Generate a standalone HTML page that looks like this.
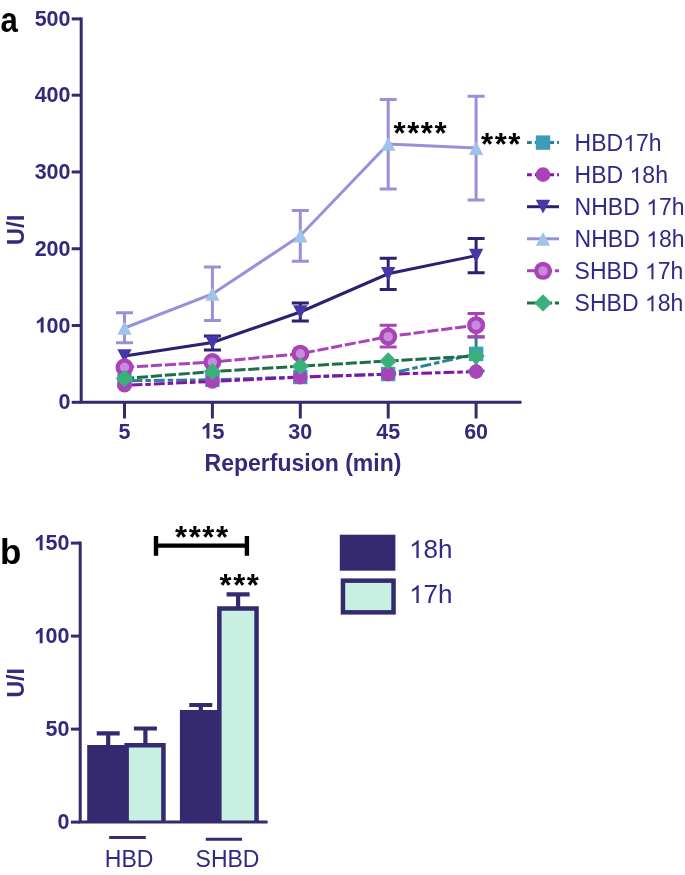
<!DOCTYPE html>
<html><head><meta charset="utf-8"><style>
html,body{margin:0;padding:0;background:#fff;}
svg{display:block;will-change:transform;}
text{font-family:"Liberation Sans",sans-serif;}
</style></head><body>
<svg width="685" height="875" viewBox="0 0 685 875">
<g stroke="#352a70" stroke-width="3" fill="none">
<path d="M81.2,17.4 V403.8 M79.7,402.3 H521.5"/>
<path d="M71.7,402.30 H81"/>
<path d="M71.7,325.52 H81"/>
<path d="M71.7,248.74 H81"/>
<path d="M71.7,171.96 H81"/>
<path d="M71.7,95.18 H81"/>
<path d="M71.7,18.90 H81"/>
<path d="M124.5,402 V418.5"/>
<path d="M212.4,402 V418.5"/>
<path d="M300.3,402 V418.5"/>
<path d="M388.2,402 V418.5"/>
<path d="M476.1,402 V418.5"/>
</g>
<polyline points="124.5,380.8 212.4,379.8 300.3,377.0 388.2,374.0 476.1,353.9" fill="none" stroke="#2a8098" stroke-width="3" stroke-dasharray="10.8 3 5.5 3" stroke-dashoffset="15.2"/>
<polyline points="124.5,385.3 212.4,381.5 300.3,377.1 388.2,374.2 476.1,371.6" fill="none" stroke="#8413a6" stroke-width="3" stroke-dasharray="10.8 3 5.5 3" stroke-dashoffset="15.2"/>
<polyline points="124.5,356.0 212.4,342.5 300.3,312.0 388.2,273.8 476.1,255.6" fill="none" stroke="#2c2170" stroke-width="3"/>
<polyline points="124.5,328.0 212.4,294.0 300.3,235.7 388.2,144.0 476.1,148.1" fill="none" stroke="#9891d9" stroke-width="3"/>
<polyline points="124.5,367.3 212.4,362.1 300.3,353.7 388.2,336.6 476.1,325.2" fill="none" stroke="#a843b8" stroke-width="3" stroke-dasharray="11.15 2.8" stroke-dashoffset="1.45"/>
<polyline points="124.5,378.5 212.4,371.6 300.3,366.2 388.2,361.0 476.1,356.0" fill="none" stroke="#1f6e47" stroke-width="3" stroke-dasharray="11.15 2.8" stroke-dashoffset="1.45"/>
<path d="M476.1,336.9 V370.9 M467.6,336.9 H484.6 M467.6,370.9 H484.6" stroke="#2a8098" stroke-width="3" fill="none"/>
<rect x="117.30" y="373.60" width="14.4" height="14.4" fill="#3c9db8"/>
<rect x="205.20" y="372.60" width="14.4" height="14.4" fill="#3c9db8"/>
<rect x="293.10" y="369.80" width="14.4" height="14.4" fill="#3c9db8"/>
<rect x="381.00" y="366.80" width="14.4" height="14.4" fill="#3c9db8"/>
<rect x="468.90" y="346.70" width="14.4" height="14.4" fill="#3c9db8"/>
<circle cx="124.5" cy="385.3" r="7.3" fill="#a843b8"/>
<circle cx="212.4" cy="381.5" r="7.3" fill="#a843b8"/>
<circle cx="300.3" cy="377.1" r="7.3" fill="#a843b8"/>
<circle cx="388.2" cy="374.2" r="7.3" fill="#a843b8"/>
<circle cx="476.1" cy="371.6" r="7.3" fill="#a843b8"/>
<path d="M212.4,336.0 V350.0 M203.9,336.0 H220.9 M203.9,350.0 H220.9" stroke="#2c2170" stroke-width="3" fill="none"/>
<path d="M300.3,303.0 V321.0 M291.8,303.0 H308.8 M291.8,321.0 H308.8" stroke="#2c2170" stroke-width="3" fill="none"/>
<path d="M388.2,258.2 V289.5 M379.7,258.2 H396.7 M379.7,289.5 H396.7" stroke="#2c2170" stroke-width="3" fill="none"/>
<path d="M476.1,238.5 V272.8 M467.6,238.5 H484.6 M467.6,272.8 H484.6" stroke="#2c2170" stroke-width="3" fill="none"/>
<path d="M117.30,349.15 L131.70,349.15 L124.50,362.85Z" fill="#4438a8"/>
<path d="M205.20,335.65 L219.60,335.65 L212.40,349.35Z" fill="#4438a8"/>
<path d="M293.10,305.15 L307.50,305.15 L300.30,318.85Z" fill="#4438a8"/>
<path d="M381.00,266.95 L395.40,266.95 L388.20,280.65Z" fill="#4438a8"/>
<path d="M468.90,248.75 L483.30,248.75 L476.10,262.45Z" fill="#4438a8"/>
<path d="M124.5,312.7 V342.8 M116.0,312.7 H133.0 M116.0,342.8 H133.0" stroke="#9891d9" stroke-width="3" fill="none"/>
<path d="M212.4,267.0 V320.6 M203.9,267.0 H220.9 M203.9,320.6 H220.9" stroke="#9891d9" stroke-width="3" fill="none"/>
<path d="M300.3,210.5 V261.2 M291.8,210.5 H308.8 M291.8,261.2 H308.8" stroke="#9891d9" stroke-width="3" fill="none"/>
<path d="M388.2,99.6 V188.9 M379.7,99.6 H396.7 M379.7,188.9 H396.7" stroke="#9891d9" stroke-width="3" fill="none"/>
<path d="M476.1,96.3 V199.9 M467.6,96.3 H484.6 M467.6,199.9 H484.6" stroke="#9891d9" stroke-width="3" fill="none"/>
<path d="M117.30,334.85 L131.70,334.85 L124.50,321.15Z" fill="#a0c3e8"/>
<path d="M205.20,300.85 L219.60,300.85 L212.40,287.15Z" fill="#a0c3e8"/>
<path d="M293.10,242.55 L307.50,242.55 L300.30,228.85Z" fill="#a0c3e8"/>
<path d="M381.00,150.85 L395.40,150.85 L388.20,137.15Z" fill="#a0c3e8"/>
<path d="M468.90,154.95 L483.30,154.95 L476.10,141.25Z" fill="#a0c3e8"/>
<path d="M388.2,325.3 V346.9 M379.7,325.3 H396.7 M379.7,346.9 H396.7" stroke="#a843b8" stroke-width="3" fill="none"/>
<path d="M476.1,313.5 V336.8 M467.6,313.5 H484.6 M467.6,336.8 H484.6" stroke="#a843b8" stroke-width="3" fill="none"/>
<circle cx="124.5" cy="367.3" r="9" fill="#a843b8"/><circle cx="124.5" cy="367.3" r="4.7" fill="#c88bdb"/>
<circle cx="212.4" cy="362.1" r="9" fill="#a843b8"/><circle cx="212.4" cy="362.1" r="4.7" fill="#c88bdb"/>
<circle cx="300.3" cy="353.7" r="9" fill="#a843b8"/><circle cx="300.3" cy="353.7" r="4.7" fill="#c88bdb"/>
<circle cx="388.2" cy="336.6" r="9" fill="#a843b8"/><circle cx="388.2" cy="336.6" r="4.7" fill="#c88bdb"/>
<circle cx="476.1" cy="325.2" r="9" fill="#a843b8"/><circle cx="476.1" cy="325.2" r="4.7" fill="#c88bdb"/>
<path d="M124.50,369.80 L133.20,378.50 L124.50,387.20 L115.80,378.50Z" fill="#39b17a"/>
<path d="M212.40,362.90 L221.10,371.60 L212.40,380.30 L203.70,371.60Z" fill="#39b17a"/>
<path d="M300.30,357.50 L309.00,366.20 L300.30,374.90 L291.60,366.20Z" fill="#39b17a"/>
<path d="M388.20,352.30 L396.90,361.00 L388.20,369.70 L379.50,361.00Z" fill="#39b17a"/>
<path d="M476.10,347.30 L484.80,356.00 L476.10,364.70 L467.40,356.00Z" fill="#39b17a"/>
<text transform="translate(70.50,409.30) scale(1,1.04)" x="-11.957" y="0" font-size="21.5" font-weight="bold" fill="#322a7a">0</text>
<text transform="translate(70.50,332.52) scale(1,1.04)" x="-35.872" y="0" font-size="21.5" font-weight="bold" fill="#322a7a"> 00</text><path transform="translate(70.50,332.52) scale(1,1.04) translate(-35.872,0) scale(0.010498,-0.010090)" d="M856,0 L575,0 L575,1059 Q421,915 212,846 L212,1101 Q322,1137 451,1237 Q580,1337 639,1466 L856,1466 Z" fill="#322a7a"/>
<text transform="translate(70.50,255.74) scale(1,1.04)" x="-35.872" y="0" font-size="21.5" font-weight="bold" fill="#322a7a">200</text>
<text transform="translate(70.50,178.96) scale(1,1.04)" x="-35.872" y="0" font-size="21.5" font-weight="bold" fill="#322a7a">300</text>
<text transform="translate(70.50,102.18) scale(1,1.04)" x="-35.872" y="0" font-size="21.5" font-weight="bold" fill="#322a7a">400</text>
<text transform="translate(70.50,25.90) scale(1,1.04)" x="-35.872" y="0" font-size="21.5" font-weight="bold" fill="#322a7a">500</text>
<text transform="translate(124.50,438.50) scale(1,1.04)" x="-5.979" y="0" font-size="21.5" font-weight="bold" fill="#322a7a">5</text>
<text transform="translate(212.40,438.50) scale(1,1.04)" x="-11.957" y="0" font-size="21.5" font-weight="bold" fill="#322a7a"> 5</text><path transform="translate(212.40,438.50) scale(1,1.04) translate(-11.957,0) scale(0.010498,-0.010090)" d="M856,0 L575,0 L575,1059 Q421,915 212,846 L212,1101 Q322,1137 451,1237 Q580,1337 639,1466 L856,1466 Z" fill="#322a7a"/>
<text transform="translate(300.30,438.50) scale(1,1.04)" x="-11.957" y="0" font-size="21.5" font-weight="bold" fill="#322a7a">30</text>
<text transform="translate(388.20,438.50) scale(1,1.04)" x="-11.957" y="0" font-size="21.5" font-weight="bold" fill="#322a7a">45</text>
<text transform="translate(476.10,438.50) scale(1,1.04)" x="-11.957" y="0" font-size="21.5" font-weight="bold" fill="#322a7a">60</text>
<text x="303" y="470.8" text-anchor="middle" font-weight="bold" font-size="23" fill="#322a7a">Reperfusion (min)</text>
<text transform="translate(24,229.9) rotate(-90)" text-anchor="middle" font-weight="bold" font-size="24" fill="#322a7a">U/I</text>
<text transform="translate(0.4,31.6) scale(0.89,1.02)" font-weight="bold" font-size="35" fill="#000">a</text>
<text x="393.5" y="144" font-weight="bold" font-size="31" letter-spacing="1.6" fill="#000">****</text>
<text x="481" y="154.5" font-weight="bold" font-size="31" letter-spacing="1.6" fill="#000">***</text>
<path d="M527,142.60 H559" stroke="#2a8098" stroke-width="3" stroke-dasharray="10.8 3 5.5 3" stroke-dashoffset="6"/>
<rect x="535.80" y="135.40" width="14.4" height="14.4" fill="#3c9db8"/>
<text transform="translate(574.60,150.90)" x="0.000" y="0" font-size="23" fill="#2f2a86">HBD 7h</text><path transform="translate(574.60,150.90) translate(48.561,0) scale(0.011230,-0.010794)" d="M763,0 L583,0 L583,1147 Q518,1085 412.5,1023 Q307,961 223,930 L223,1104 Q374,1175 484.5,1273.5 Q595,1372 646,1466 L763,1466 Z" fill="#2f2a86"/>
<path d="M527,174.66 H559" stroke="#8413a6" stroke-width="3" stroke-dasharray="10.8 3 5.5 3" stroke-dashoffset="6"/>
<circle cx="543" cy="174.66" r="7.3" fill="#a843b8"/>
<text transform="translate(574.60,182.96)" x="0.000" y="0" font-size="23" fill="#2f2a86">HBD  8h</text><path transform="translate(574.60,182.96) translate(54.951,0) scale(0.011230,-0.010794)" d="M763,0 L583,0 L583,1147 Q518,1085 412.5,1023 Q307,961 223,930 L223,1104 Q374,1175 484.5,1273.5 Q595,1372 646,1466 L763,1466 Z" fill="#2f2a86"/>
<path d="M527,206.72 H559" stroke="#2c2170" stroke-width="3"/>
<path d="M535.80,199.87 L550.20,199.87 L543.00,213.57Z" fill="#4438a8"/>
<text transform="translate(574.60,215.02)" x="0.000" y="0" font-size="23" fill="#2f2a86">NHBD  7h</text><path transform="translate(574.60,215.02) translate(71.561,0) scale(0.011230,-0.010794)" d="M763,0 L583,0 L583,1147 Q518,1085 412.5,1023 Q307,961 223,930 L223,1104 Q374,1175 484.5,1273.5 Q595,1372 646,1466 L763,1466 Z" fill="#2f2a86"/>
<path d="M527,238.78 H559" stroke="#9891d9" stroke-width="3"/>
<path d="M535.80,245.63 L550.20,245.63 L543.00,231.93Z" fill="#a0c3e8"/>
<text transform="translate(574.60,247.08)" x="0.000" y="0" font-size="23" fill="#2f2a86">NHBD  8h</text><path transform="translate(574.60,247.08) translate(71.561,0) scale(0.011230,-0.010794)" d="M763,0 L583,0 L583,1147 Q518,1085 412.5,1023 Q307,961 223,930 L223,1104 Q374,1175 484.5,1273.5 Q595,1372 646,1466 L763,1466 Z" fill="#2f2a86"/>
<path d="M527,270.84 H559" stroke="#a843b8" stroke-width="3" stroke-dasharray="11.15 2.8" stroke-dashoffset="0"/>
<circle cx="543" cy="270.84000000000003" r="9" fill="#a843b8"/><circle cx="543" cy="270.84000000000003" r="4.7" fill="#c88bdb"/>
<text transform="translate(574.60,279.14)" x="0.000" y="0" font-size="23" fill="#2f2a86">SHBD  7h</text><path transform="translate(574.60,279.14) translate(70.292,0) scale(0.011230,-0.010794)" d="M763,0 L583,0 L583,1147 Q518,1085 412.5,1023 Q307,961 223,930 L223,1104 Q374,1175 484.5,1273.5 Q595,1372 646,1466 L763,1466 Z" fill="#2f2a86"/>
<path d="M527,302.90 H559" stroke="#1f6e47" stroke-width="3" stroke-dasharray="11.15 2.8" stroke-dashoffset="0"/>
<path d="M543.00,294.20 L551.70,302.90 L543.00,311.60 L534.30,302.90Z" fill="#39b17a"/>
<text transform="translate(574.60,311.20)" x="0.000" y="0" font-size="23" fill="#2f2a86">SHBD  8h</text><path transform="translate(574.60,311.20) translate(70.292,0) scale(0.011230,-0.010794)" d="M763,0 L583,0 L583,1147 Q518,1085 412.5,1023 Q307,961 223,930 L223,1104 Q374,1175 484.5,1273.5 Q595,1372 646,1466 L763,1466 Z" fill="#2f2a86"/>
<path d="M108.2,733.3 V747 M96.7,733.3 H119.7" stroke="#352a70" stroke-width="4.2" fill="none"/>
<path d="M145.4,728.5 V745 M133.9,728.5 H156.9" stroke="#352a70" stroke-width="4.2" fill="none"/>
<path d="M200.8,705.0 V712 M189.3,705.0 H212.3" stroke="#352a70" stroke-width="4.2" fill="none"/>
<path d="M238.1,594.4 V608 M226.6,594.4 H249.6" stroke="#352a70" stroke-width="4.2" fill="none"/>
<rect x="89.45" y="747.25" width="37.20" height="74.85" fill="#352a70"/><path d="M89.45,822.1 V747.25 H126.65 V822.1" fill="none" stroke="#352a70" stroke-width="4.5" stroke-linejoin="miter"/>
<rect x="126.65" y="745.25" width="36.80" height="76.85" fill="#c7f0e2"/><path d="M126.65,822.1 V745.25 H163.45 V822.1" fill="none" stroke="#352a70" stroke-width="4.5" stroke-linejoin="miter"/>
<rect x="182.15" y="712.25" width="37.20" height="109.85" fill="#352a70"/><path d="M182.15,822.1 V712.25 H219.35 V822.1" fill="none" stroke="#352a70" stroke-width="4.5" stroke-linejoin="miter"/>
<rect x="219.35" y="608.55" width="37.20" height="213.55" fill="#c7f0e2"/><path d="M219.35,822.1 V608.55 H256.55 V822.1" fill="none" stroke="#352a70" stroke-width="4.5" stroke-linejoin="miter"/>
<g stroke="#352a70" stroke-width="3" fill="none">
<path d="M80.2,541.6 V823.6 M78.7,822.1 H267.6"/>
<path d="M70.9,822.10 H80"/>
<path d="M70.9,729.10 H80"/>
<path d="M70.9,636.10 H80"/>
<path d="M70.9,543.10 H80"/>
</g>
<text transform="translate(69.50,829.30) scale(1,1.04)" x="-11.957" y="0" font-size="21.5" font-weight="bold" fill="#322a7a">0</text>
<text transform="translate(69.50,736.30) scale(1,1.04)" x="-23.915" y="0" font-size="21.5" font-weight="bold" fill="#322a7a">50</text>
<text transform="translate(69.50,643.30) scale(1,1.04)" x="-35.872" y="0" font-size="21.5" font-weight="bold" fill="#322a7a"> 00</text><path transform="translate(69.50,643.30) scale(1,1.04) translate(-35.872,0) scale(0.010498,-0.010090)" d="M856,0 L575,0 L575,1059 Q421,915 212,846 L212,1101 Q322,1137 451,1237 Q580,1337 639,1466 L856,1466 Z" fill="#322a7a"/>
<text transform="translate(69.50,550.30) scale(1,1.04)" x="-35.872" y="0" font-size="21.5" font-weight="bold" fill="#322a7a"> 50</text><path transform="translate(69.50,550.30) scale(1,1.04) translate(-35.872,0) scale(0.010498,-0.010090)" d="M856,0 L575,0 L575,1059 Q421,915 212,846 L212,1101 Q322,1137 451,1237 Q580,1337 639,1466 L856,1466 Z" fill="#322a7a"/>
<path d="M109.2,837.6 H145.8 M205.8,839.2 H242" stroke="#352a70" stroke-width="3"/>
<text x="129.1" y="866.8" text-anchor="middle" font-size="23" fill="#2f2a86">HBD</text>
<text x="227.5" y="866.8" text-anchor="middle" font-size="23" fill="#2f2a86">SHBD</text>
<text transform="translate(23.6,682.8) rotate(-90)" text-anchor="middle" font-weight="bold" font-size="23" fill="#322a7a">U/I</text>
<text x="0" y="563.5" font-weight="bold" font-size="35" fill="#000">b</text>
<path d="M156,545.6 H246.9 M156,535.9 V555.8 M246.9,535.9 V555.8" stroke="#000" stroke-width="4.4" fill="none"/>
<text x="175" y="547.5" font-weight="bold" font-size="31" letter-spacing="1.6" fill="#000">****</text>
<text x="219.5" y="596" font-weight="bold" font-size="31" letter-spacing="1.6" fill="#000">***</text>
<rect x="339.8" y="534.7" width="55.6" height="36" fill="#352a70"/>
<rect x="342.95" y="580.65" width="50.6" height="31.7" fill="#c7f0e2" stroke="#352a70" stroke-width="4.5"/>
<text transform="translate(409.00,558.10)" x="0.000" y="0" font-size="26" fill="#2f2a86"> 8h</text><path transform="translate(409.00,558.10) translate(0.000,0) scale(0.012695,-0.012202)" d="M763,0 L583,0 L583,1147 Q518,1085 412.5,1023 Q307,961 223,930 L223,1104 Q374,1175 484.5,1273.5 Q595,1372 646,1466 L763,1466 Z" fill="#2f2a86"/>
<text transform="translate(409.00,603.10)" x="0.000" y="0" font-size="26" fill="#2f2a86"> 7h</text><path transform="translate(409.00,603.10) translate(0.000,0) scale(0.012695,-0.012202)" d="M763,0 L583,0 L583,1147 Q518,1085 412.5,1023 Q307,961 223,930 L223,1104 Q374,1175 484.5,1273.5 Q595,1372 646,1466 L763,1466 Z" fill="#2f2a86"/>
</svg>
</body></html>
